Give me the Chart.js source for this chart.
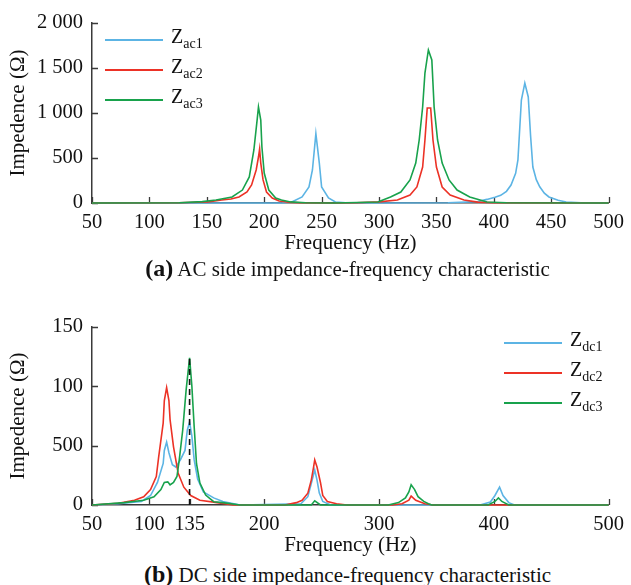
<!DOCTYPE html>
<html>
<head>
<meta charset="utf-8">
<script src="https://cdn.jsdelivr.net/npm/chart.js@4/dist/chart.umd.min.js"></script>
<style>
body{margin:0;background:#fff;font-family:"Liberation Serif",serif;color:#111}
#page{position:relative;width:631px;height:585px;overflow:hidden}
canvas{position:absolute;left:0}
.legend{position:absolute}
.legend div{display:flex;align-items:center;height:30px}
.legend span.ln{display:inline-block;width:58px;height:2px;margin-right:8px}
.legend span.tx{font-size:20px;line-height:20px}
.legend sub{font-size:14px;vertical-align:-5px}
.cap{position:absolute;left:0;width:695px;text-align:center;font-size:21px;line-height:24px;white-space:nowrap}
.cap b{font-size:24px}
</style>
</head>
<body>
<div id="page">
<canvas id="acChart" width="631" height="256" style="top:0"></canvas>
<div class="legend" id="acLegend" style="left:105px;top:25px"></div>
<div class="cap" style="top:256px"><b>(a)</b> AC side impedance-frequency characteristic</div>

<canvas id="dcChart" width="631" height="258" style="top:300px"></canvas>
<div class="legend" id="dcLegend" style="left:504px;top:328px"></div>
<div class="cap" style="top:562px"><b>(b)</b> DC side impedance-frequency characteristic</div>
</div>

<script>
// AC side, Zac1..Zac3 (frequency in Hz, impedance in ohm)
let acFreq1=[50,150,200,216,224,233,239,242,245,248,250,256,262,271,300,360,386,394,401,406,411,415,419,421,424,427,430,432,434,437,440,444,448,456,463,476,500]
let acZ1=[0,0,0,1,11,67,178,367,770,444,178,56,11,3,0,3,15,40,65,85,130,200,330,478,1144,1333,1178,750,400,260,180,110,67,30,11,3,0]
let acFreq2=[50,126,151,163,171,178,185,189,193,195,196,197,199,202,207,213,221,231,260,280,300,316,327,333,338,340,342,345,347,350,355,362,374,386,401,500]
let acZ2=[0,2,12,33,45,67,122,200,367,511,600,444,256,122,56,22,8,2,0,3,12,33,89,178,400,700,1055,1055,700,400,178,89,33,10,2,0]
let acFreq3=[50,126,146,158,172,181,187,191,194,195,197,198,200,204,210,215,223,236,260,281,299,310,319,327,332,335,338,340,343,346,348,351,355,361,368,379,394,411,500]
let acZ3=[0,3,15,33,67,144,289,589,944,1067,922,622,333,144,56,33,12,3,0,5,11,67,122,256,444,700,1067,1444,1700,1589,1067,700,444,256,144,67,11,3,0]
let acNames=["ac1","ac2","ac3"]
let acFreqTicks=[50,100,150,200,250,300,350,400,450,500]
let acImpTicks=[0,500,1000,1500,2000]
let acImpLabels=["0","500","1 000","1 500","2 000"]

// DC side, Zdc1..Zdc3
let dcFreq1=[50,73,93,101,107,112,113,115,117,120,123,127,131,133,135,137,139,142,147,156,164,179,232,238,241,244,246,248,251,258,388,397,401,405,408,413,418,500]
let dcZ1=[0,1,3,8,19,35,46,53,44,34,32,38,46,63,70,58,38,22,11,6,3,0,1,7,18,29.5,21,10,3,0,0,2.5,8,15,8,2,0,0]
let dcFreq2=[50,73,87,95,101,106,108,112,113,115,117,118,121,125,130,136,144,159,173,218,228,233,238,241,243,244,246,249,251,255,263,272,312,320,326,328,332,340,347,500]
let dcZ2=[0,1.5,4,7,13,24,40,69,88,99,88,72,49,27,15,8,4,2,0,0,2,4,10,21,32,38,32,19,8,3,1,0,0,1,4,7.5,4,1,0,0]
let dcFreq3=[50,78,95,104,110,113,116,118,121,124,126,129,132,135,137,139,141,144,149,156,164,179,241,244,249,308,317,323,326,328,331,334,339,343,346,395,401,404,407,413,500]
let dcZ3=[0,2,4,7,13,19,19.5,17,19,24,38,63,97,124,100,66,35,18.5,8.4,2.8,2,0,0,3.5,0,0,2,6,11,17,13,7,3,1,0,0,3,6,3,0,0]
let dcNames=["dc1","dc2","dc3"]
let dcFreqTicks=[50,100,135,200,300,400,500]
let dcImpTicks=[0,50,100,150]
let dcImpLabels=["0","500","100","150"]
let dcMarker=[135,124]

let colors=["#5cb4e4","#ec3226","#18a24c"]
let axisColor="#3a3a3a"
let serif="'Liberation Serif', serif"

function pts(f,z){
return f.map((x,i)=>({x:x,y:z[i]}))
}

// small tick marks drawn inside the plot, like the original figure
let inwardTicks={
id:"inwardTicks",
beforeDatasetsDraw(chart){
let ctx=chart.ctx
let xs=chart.scales.x, ys=chart.scales.y
let a=chart.chartArea
ctx.save()
ctx.strokeStyle=axisColor
ctx.lineWidth=1.3
ctx.beginPath()
xs.ticks.forEach(t=>{
let px=Math.round(xs.getPixelForValue(t.value))+0.5
ctx.moveTo(px,a.bottom)
ctx.lineTo(px,a.bottom-6)
})
ys.ticks.forEach(t=>{
let py=Math.round(ys.getPixelForValue(t.value))+0.5
ctx.moveTo(a.left,py)
ctx.lineTo(a.left+6,py)
})
ctx.stroke()
ctx.restore()
}
}

// dashed guide at the 135 Hz resonance
let marker={
id:"marker",
afterDatasetsDraw(chart){
let ctx=chart.ctx
let xs=chart.scales.x, ys=chart.scales.y
let px=xs.getPixelForValue(dcMarker[0])
ctx.save()
ctx.strokeStyle="#111"
ctx.lineWidth=1.6
ctx.setLineDash([6,4])
ctx.beginPath()
ctx.moveTo(px,ys.getPixelForValue(0))
ctx.lineTo(px,ys.getPixelForValue(dcMarker[1]))
ctx.stroke()
ctx.restore()
}
}

function makeChart(id,sets,xTicks,yTicks,yLabels,yMax,extra,padTop,axisH){
let datasets=sets.map((s,i)=>({
label:"Z"+s.name,
data:pts(s.f,s.z),
borderColor:colors[i],
borderWidth:1.6,
pointRadius:0,
tension:0,
clip:4,
order:2-i
}))
return new Chart(document.getElementById(id),{
type:"line",
data:{datasets:datasets},
plugins:[inwardTicks].concat(extra),
options:{
responsive:false,
animation:false,
devicePixelRatio:1,
layout:{padding:{top:padTop,right:18,left:0,bottom:0}},
plugins:{legend:{display:false},tooltip:{enabled:false}},
scales:{
x:{
type:"linear",min:50,max:500,
afterBuildTicks:s=>{s.ticks=xTicks.map(v=>({value:v}))},
afterFit:s=>{s.height=axisH},
grid:{drawOnChartArea:false,drawTicks:false},
border:{color:axisColor,width:1.5},
ticks:{color:"#111",font:{family:serif,size:20.5},padding:7,maxRotation:0,autoSkip:false},
title:{display:true,text:"Frequency (Hz)",color:"#111",font:{family:serif,size:21},padding:{top:0,bottom:0}}
},
y:{
min:0,max:yMax,
afterBuildTicks:s=>{s.ticks=yTicks.map(v=>({value:v}))},
afterFit:s=>{s.width=92},
grid:{drawOnChartArea:false,drawTicks:false},
border:{color:axisColor,width:1.5},
ticks:{color:"#111",font:{family:serif,size:20.5},padding:9,autoSkip:false,
callback:(v)=>yLabels[yTicks.indexOf(v)]},
title:{display:true,text:"Impedence (Ω)",color:"#111",font:{family:serif,size:21},padding:{top:6,bottom:0}}
}
}
}
})
}

function legendHtml(id,names){
let box=document.getElementById(id)
names.forEach((n,i)=>{
let row=document.createElement("div")
row.innerHTML='<span class="ln" style="background:'+colors[i]+'"></span><span class="tx">Z<sub>'+n+'</sub></span>'
box.appendChild(row)
})
}

legendHtml("acLegend",acNames)
legendHtml("dcLegend",dcNames)

makeChart("acChart",[
{name:acNames[0],f:acFreq1,z:acZ1},
{name:acNames[1],f:acFreq2,z:acZ2},
{name:acNames[2],f:acFreq3,z:acZ3}
],acFreqTicks,acImpTicks,acImpLabels,2000,[],23,53)

makeChart("dcChart",[
{name:dcNames[0],f:dcFreq1,z:dcZ1},
{name:dcNames[1],f:dcFreq2,z:dcZ2},
{name:dcNames[2],f:dcFreq3,z:dcZ3}
],dcFreqTicks,dcImpTicks,dcImpLabels,150,[marker],27,53)
</script>
</body>
</html>
